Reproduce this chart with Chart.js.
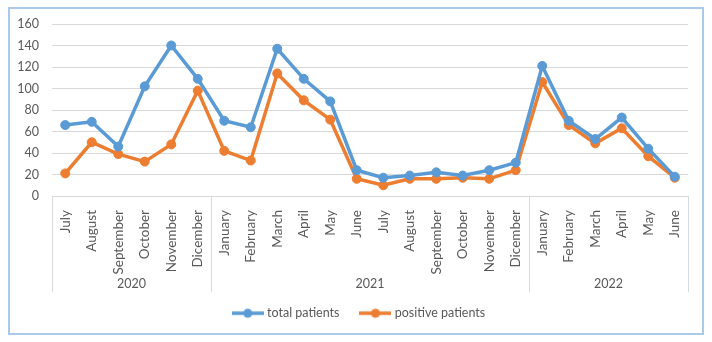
<!DOCTYPE html>
<html>
<head>
<meta charset="utf-8">
<script src="https://cdn.jsdelivr.net/npm/chart.js@4"></script>
<style>
	body { margin: 0; background: #fff; }
	#box {
		position: absolute; left: 8px; top: 7px;
		width: 696px; height: 328px;
		border: 2px solid #a9cbe9; box-sizing: border-box;
	}
</style>
</head>
<body>
<div id="box"><canvas id="chart1"></canvas></div>
<script>
const months = [
	"July", "August", "September", "October", "November", "Dicember",
	"January", "February", "March", "April", "May", "June",
	"July", "August", "September", "October", "November", "Dicember",
	"January", "February", "March", "April", "May", "June",
];
const years = ["2020", "2021", "2022"];
const yearSpans = [6, 12, 6];
const totalPatients = [66, 69, 46, 102, 140, 109, 70, 64, 137, 109, 88, 24, 17, 19, 22, 19, 24, 31, 121, 70, 53, 73, 44, 18];
const positivePatients = [21, 50, 39, 32, 48, 98, 42, 33, 114, 89, 71, 16, 10, 16, 16, 17, 16, 24, 106, 66, 49, 63, 37, 17];

const blue = "#5b9bd5";
const orange = "#ed7d31";
const grey = "#595959";
const gridGrey = "#d9d9d9";
const SEP_H = 96; // separator lines below the axis
const AXIS_H = 88; // fitted height of the x axis, legend padding does the rest

Chart.defaults.font.family = "Lato, 'Open Sans', sans-serif";
Chart.defaults.font.size = 12.5;
Chart.defaults.color = grey;

function legendIcon(color) {
	const c = document.createElement("canvas");
	c.width = 32;
	c.height = 12;
	const ctx = c.getContext("2d");
	ctx.strokeStyle = color;
	ctx.lineWidth = 3.5;
	ctx.beginPath();
	ctx.moveTo(0, 6);
	ctx.lineTo(32, 6);
	ctx.stroke();
	ctx.fillStyle = color;
	ctx.beginPath();
	ctx.arc(16, 6, 4.5, 0, Math.PI * 2);
	ctx.fill();
	return c;
}
const icons = [legendIcon(blue), legendIcon(orange)];

// year row under the month labels, with the group separators
const yearGroups = {
	id: "yearGroups",
	afterLayout(chart) {
		// legend sits a bit right of the canvas centre in the original
		chart.legend.left += 11;
		chart.legend.right += 11;
	},
	afterDraw(chart) {
		const { ctx, chartArea } = chart;
		const step = (chartArea.right - chartArea.left) / months.length;
		const top = chartArea.bottom;
		ctx.save();
		ctx.strokeStyle = gridGrey;
		ctx.lineWidth = 1;
		let idx = 0;
		const bounds = [0];
		yearSpans.forEach((n) => { idx += n; bounds.push(idx); });
		bounds.forEach((b) => {
			const px = Math.round(chartArea.left + b * step) + 0.5;
			ctx.beginPath();
			ctx.moveTo(px, top);
			ctx.lineTo(px, top + SEP_H);
			ctx.stroke();
		});
		ctx.fillStyle = grey;
		ctx.font = "12.5px Lato, 'Open Sans', sans-serif";
		ctx.textAlign = "center";
		ctx.textBaseline = "middle";
		years.forEach((y, i) => {
			const mid = chartArea.left + ((bounds[i] + bounds[i + 1]) / 2) * step;
			ctx.fillText(y, mid, top + 88);
		});
		ctx.restore();
	},
};

new Chart(document.getElementById("chart1"), {
	type: "line",
	data: {
		labels: months,
		datasets: [
			{
				label: "total patients",
				data: totalPatients,
				borderColor: blue,
				backgroundColor: blue,
				borderWidth: 3.5,
				pointRadius: 4.5,
				pointBorderWidth: 1,
				tension: 0,
			},
			{
				label: "positive patients",
				data: positivePatients,
				borderColor: orange,
				backgroundColor: orange,
				borderWidth: 3.5,
				pointRadius: 4.5,
				pointBorderWidth: 1,
				tension: 0,
			},
		],
	},
	options: {
		responsive: true,
		maintainAspectRatio: false,
		animation: false,
		layout: {
			padding: { top: 15, left: 0, right: 14, bottom: 3.5 },
		},
		scales: {
			x: {
				offset: true,
				grid: { display: false },
				border: { display: true, color: gridGrey },
				ticks: {
					minRotation: 90,
					maxRotation: 90,
					autoSkip: false,
					padding: 6,
					color: grey,
					font: { size: 13.5 },
				},
				afterFit(scale) {
					scale.height = AXIS_H;
				},
			},
			y: {
				min: 0,
				max: 160,
				grid: { color: gridGrey, drawTicks: false },
				border: { display: false },
				ticks: {
					stepSize: 20,
					padding: 13,
					color: grey,
				},
				afterFit(scale) {
					scale.width = 42;
					scale.paddingTop = 0;
					scale.paddingBottom = 0;
				},
			},
		},
		plugins: {
			tooltip: { enabled: false },
			legend: {
				position: "bottom",
				labels: {
					usePointStyle: true,
					pointStyleWidth: 26,
					padding: 23,
					color: grey,
					generateLabels(chart) {
						const items = Chart.defaults.plugins.legend.labels.generateLabels(chart);
						items.forEach((it, i) => { it.pointStyle = icons[i]; });
						return items;
					},
				},
			},
		},
	},
	plugins: [yearGroups],
});
</script>
</body>
</html>
